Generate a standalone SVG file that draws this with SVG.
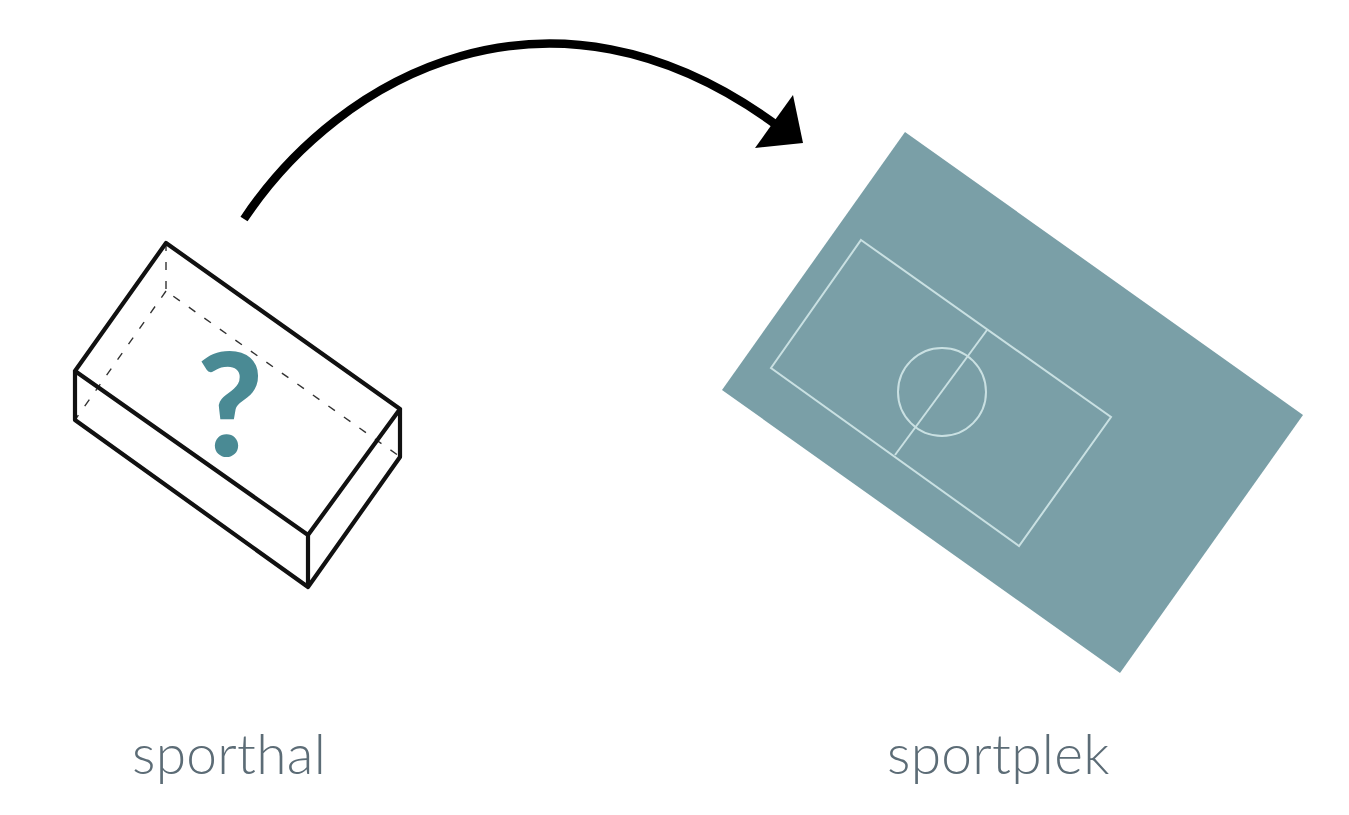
<svg xmlns="http://www.w3.org/2000/svg" width="1349" height="815" viewBox="0 0 1349 815">
<style>
.box{fill:none;stroke:#111;stroke-width:4.2;stroke-linejoin:round;stroke-linecap:round}
.hid{fill:none;stroke:#333;stroke-width:1.4;stroke-dasharray:8 11}
.pitch{fill:none;stroke:#c9e0e2;stroke-width:2}
.lbl{font-family:"Lato","Liberation Sans",sans-serif;font-weight:300;font-size:55px;letter-spacing:.3px;fill:#5c6c76}
</style>
<rect width="1349" height="815" fill="#fff"/>
<g id="sporthal">
<path class="hid" d="M166,243V291L399,456M166,291L75,420"/>
<path class="box" d="M166,243L400,409L308,535L75,371ZM75,371V420L308,587V535M308,587L400,457V409"/>
<text x="230" y="456" text-anchor="middle" style="font-family:'Lato','Liberation Sans',sans-serif;font-weight:900;font-size:143px;fill:#4a8a94">?</text>
<text class="lbl" x="132" y="774">sporthal</text>
</g>
<g id="sportplek">
<polygon points="905,132 1303,415 1120,673 722,390" fill="#7a9fa7"/>
<polygon class="pitch" points="861,240 1111,417 1019,546 771,368"/>
<path class="pitch" d="M987,330L895,455"/>
<circle class="pitch" cx="942" cy="392" r="44"/>
<text class="lbl" x="887" y="774">sportplek</text>
</g>
<g id="connectors">
<path d="M244,219C340,75 550,-40 775,124" fill="none" stroke="#000" stroke-width="8.5"/>
<polygon points="793,95 803,143 755,148 775,120" fill="#000"/>
</g>
</svg>
